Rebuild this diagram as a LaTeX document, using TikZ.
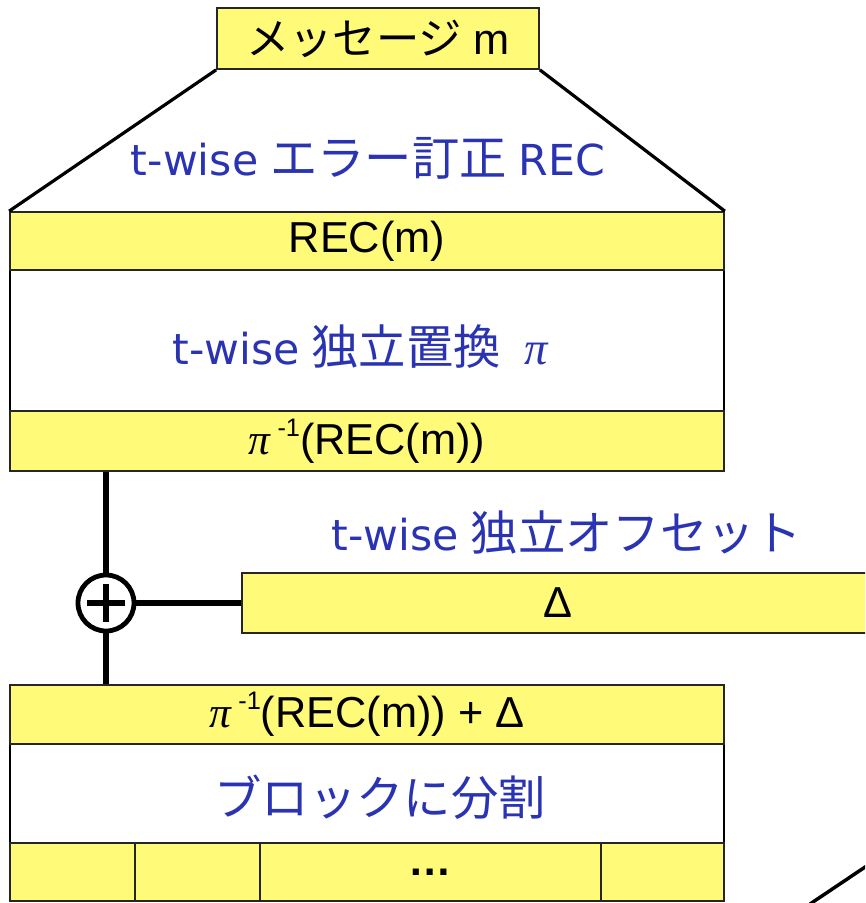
\documentclass[tikz,border=0pt]{standalone}
\usepackage{fontspec}
\setmainfont{Liberation Sans}
\newfontfamily\jpf{Noto Sans CJK JP}
\newfontfamily\dvf{DejaVu Sans}
\newfontfamily\serf{Liberation Serif}
\usetikzlibrary{calc}
\definecolor{boxyellow}{RGB}{255,250,120}
\definecolor{lblblue}{RGB}{42,52,178}
\newcommand\blk{\fontsize{32.5pt}{38pt}\selectfont}
\newcommand\blu{\fontsize{32pt}{38pt}\selectfont\color{lblblue}}
\newcommand\jpb[1]{{\fontsize{35.5pt}{40pt}\selectfont\jpf #1}}
\newcommand\ipi{{\serf\itshape π}}
\newcommand\minusone{\,\raisebox{0.42em}{\fontsize{19pt}{22pt}\selectfont -1}}
\begin{document}
\begin{tikzpicture}[x=0.75pt,y=-0.75pt,
  ybox/.style={draw=black!85, line width=1.3pt, fill=boxyellow, inner sep=0pt, anchor=center, font=\blk},
  wbox/.style={draw=black, line width=2.2pt, fill=white, inner sep=0pt, anchor=center},
  conn/.style={line width=4.6pt},
  lbl/.style={inner sep=0pt, anchor=center}]
\useasboundingbox (0,0) rectangle (865,903);
\clip (0,0) rectangle (865,903);
% main column
\node[wbox, minimum width=535.5pt, minimum height=105.75pt] (perm) at (367,340.5) {};
\node[ybox, minimum width=535.5pt, minimum height=43.5pt] (rec) at (367,241) {REC(m)};
\node[ybox, minimum width=535.5pt, minimum height=45pt] (pinv) at (367,441) {\ipi\minusone(REC(m))};
\node[ybox, minimum width=241.5pt, minimum height=45.75pt] (msg) at (378,38.5) {{\jpf メッセージ} m};
\node[lbl] (reclbl) at (368,158) {\blu{\dvf t-wise} \jpb{エラー訂正} {\dvf REC}};
\node[lbl] (permlbl) at (360,347) {\blu{\dvf t-wise} \jpb{独立置換}\hspace{0.55em}{\fontsize{35pt}{40pt}\selectfont\ipi}};
% trapezoid
\draw[line width=2.4pt] (msg.south west) -- (rec.north west);
\draw[line width=2.4pt] (msg.south east) -- (rec.north east);
% offset
\node[ybox, minimum width=474pt, minimum height=45pt] (delta) at (558,603) {Δ};
\node[lbl] (offlbl) at (567,532) {\blu{\dvf t-wise} \jpb{独立オフセット}};
\node[circle, draw=black, fill=white, line width=3.6pt, minimum size=42pt, inner sep=0pt] (xor) at (106,603) {};
\draw[line width=3.8pt] (xor.center) ++(-19,0) -- ++(38,0);
\draw[line width=3.8pt] (xor.center) ++(0,-19) -- ++(0,38);
% lower column
\node[wbox, minimum width=535.5pt, minimum height=74.25pt] (split) at (367,793.5) {};
\node[lbl] (splitlbl) at (380,797) {\color{lblblue}\jpb{ブロックに分割}};
\node[ybox, minimum width=535.5pt, minimum height=44.25pt] (sum) at (367,714.5) {\ipi\minusone(REC(m)) + Δ};
\node[ybox, minimum width=93.75pt, minimum height=43.5pt] (c1) at (72.5,872) {};
\node[ybox, minimum width=93.75pt, minimum height=43.5pt] (c2) at (197.5,872) {};
\node[ybox, minimum width=255.75pt, minimum height=43.5pt] (c3) at (430.5,872) {\bfseries …};
\node[ybox, minimum width=92.25pt, minimum height=43.5pt] (c4) at (662.5,872) {};
% connectors
\draw[conn] (pinv.south -| xor) -- (xor.north);
\draw[conn] (xor.south) -- (sum.north -| xor);
\draw[conn] (xor.east) -- (delta.west);
% diagonal going off the page
\coordinate (dA) at (810,904);
\coordinate (dB) at (880,857);
\draw[line width=2.6pt] (dA) -- (dB);
\end{tikzpicture}
\end{document}
